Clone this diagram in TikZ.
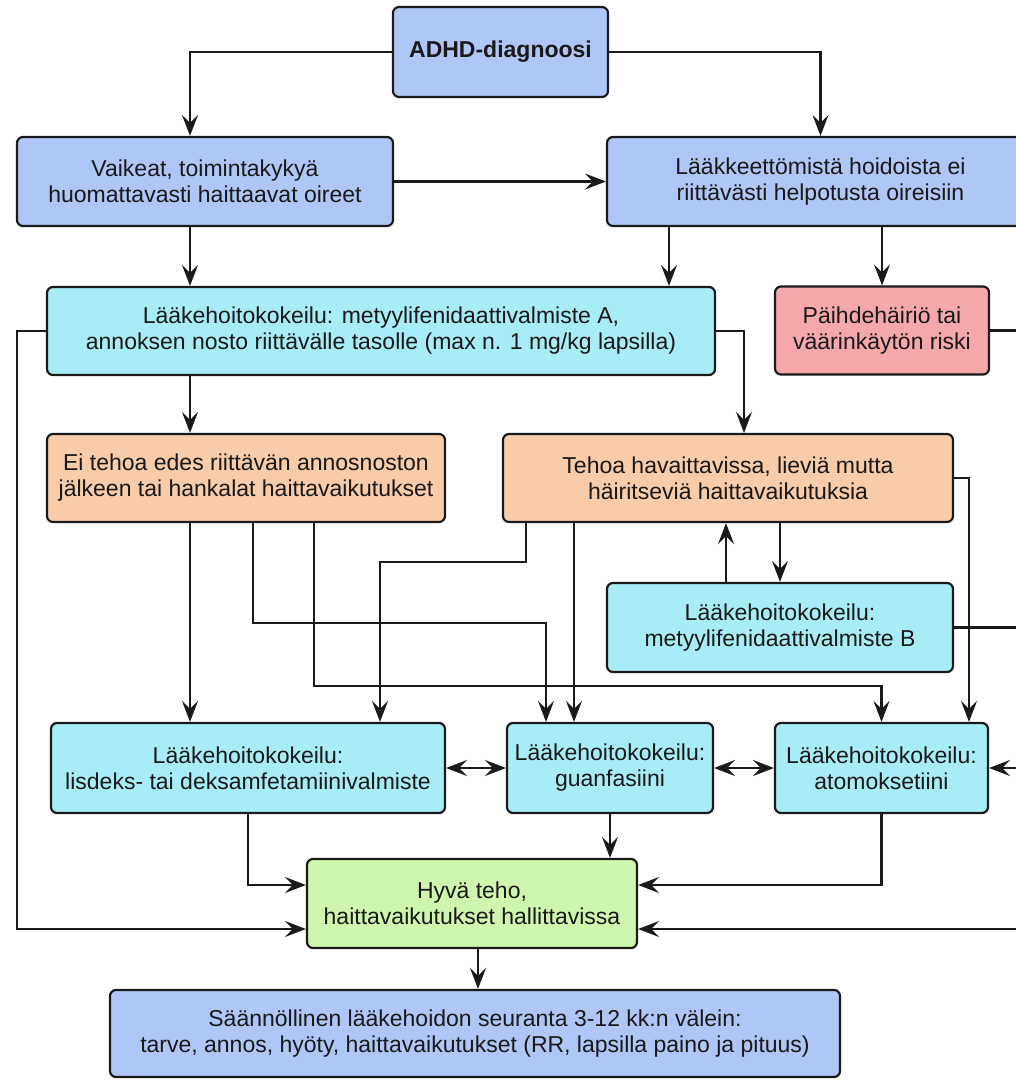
\documentclass[tikz,border=0pt]{standalone}
\usepackage{fontspec}
\setmainfont{Liberation Sans}
\usetikzlibrary{arrows.meta}
\definecolor{cblue}{HTML}{AFC7F6}
\definecolor{ccyan}{HTML}{A8ECF8}
\definecolor{corange}{HTML}{F8CBA9}
\definecolor{cpink}{HTML}{F4A8AA}
\definecolor{cgreen}{HTML}{CFF6AE}
\definecolor{cline}{HTML}{1A1A1A}
\begin{document}
\begin{tikzpicture}[x=1pt,y=-1pt,
  box/.style={rectangle, rounded corners=6pt, draw=cline, line width=2.2pt,
    align=center, inner sep=0pt, text=black!90,
    font=\fontsize{23}{26}\selectfont},
  tipA/.tip={Stealth[length=21pt,width=16pt,inset=8pt]},
  arr/.style={line width=2.2pt, draw=cline, -tipA},
  darr/.style={line width=2.2pt, draw=cline, tipA-tipA},
  ln/.style={line width=2.2pt, draw=cline}]

\useasboundingbox (0,0) rectangle (1016,1081);
\fill[white] (0,0) rectangle (1016,1081);
\clip (0,0) rectangle (1016,1081);

% boxes
\node[box, fill=cblue, minimum width=215pt, minimum height=90pt, font=\fontsize{23}{26}\selectfont\bfseries]
  (adhd) at (500.5,52) {ADHD-diagnoosi};
\node[box, fill=cblue, minimum width=376pt, minimum height=89pt]
  (vaik) at (205,181.5) {Vaikeat, toimintakykyä\\huomattavasti haittaavat oireet};
\node[box, fill=cblue, minimum width=427pt, minimum height=89pt]
  (laakk) at (820.5,181.5) {Lääkkeettömistä hoidoista ei\\riittävästi helpotusta oireisiin};
\node[box, fill=ccyan, minimum width=668pt, minimum height=88pt]
  (lkA) at (381,331) {Lääkehoitokokeilu: metyylifenidaattivalmiste A,\\annoksen nosto riittävälle tasolle (max n. 1 mg/kg lapsilla)};
\node[box, fill=cpink, minimum width=214pt, minimum height=88pt]
  (paih) at (882,330.5) {Päihdehäiriö tai\\väärinkäytön riski};
\node[box, fill=corange, minimum width=398pt, minimum height=88pt]
  (ei) at (246,478) {Ei tehoa edes riittävän annosnoston\\jälkeen tai hankalat haittavaikutukset};
\node[box, fill=corange, minimum width=450pt, minimum height=88pt]
  (teho) at (728,478) {Tehoa havaittavissa, lieviä mutta\\häiritseviä haittavaikutuksia};
\node[box, fill=ccyan, minimum width=346pt, minimum height=89pt]
  (metB) at (780,627.5) {Lääkehoitokokeilu:\\metyylifenidaattivalmiste B};
\node[box, fill=ccyan, minimum width=394pt, minimum height=90pt]
  (lis) at (248,768) {Lääkehoitokokeilu:\\lisdeks- tai deksamfetamiinivalmiste};
\node[box, fill=ccyan, minimum width=206pt, minimum height=90pt]
  (guan) at (610,768) {Lääkehoitokokeilu:\\guanfasiini};
\node[box, fill=ccyan, minimum width=213pt, minimum height=90pt]
  (atom) at (881.5,768) {Lääkehoitokokeilu:\\atomoksetiini};
\node[box, fill=cgreen, minimum width=330pt, minimum height=89pt]
  (hyva) at (472,903.5) {Hyvä teho,\\haittavaikutukset hallittavissa};
\node[box, fill=cblue, minimum width=730pt, minimum height=87pt]
  (saan) at (475,1033.5) {Säännöllinen lääkehoidon seuranta 3-12 kk:n välein:\\tarve, annos, hyöty, haittavaikutukset (RR, lapsilla paino ja pituus)};

% routing helpers
\coordinate (redge) at (1016,0);
\coordinate (xV) at (190,0);
\coordinate (xL) at (669,0);
\coordinate (xW) at (17,0);
\coordinate (yH2) at (0,929);
\coordinate (yb) at (0,885);
\coordinate (xT) at (744,0);
\coordinate (b1) at (253,623);
\coordinate (b1e) at (546,623);
\coordinate (b2) at (314,686);
\coordinate (b2e) at (881.5,686);
\coordinate (b3) at (526,562);
\coordinate (b3e) at (380,562);
\coordinate (t4) at (574,0);
\coordinate (b5) at (969,0);
\coordinate (xd) at (780,0);
\coordinate (xu) at (726,0);
\coordinate (xs) at (478,0);

% connectors
\draw[arr] (adhd.west) -| (vaik.north -| xV);
\draw[arr] (adhd.east) -| (laakk.north);
\draw[arr] (vaik.east) -- (laakk.west);
\draw[arr] (vaik.south -| xV) -- (lkA.north -| xV);
\draw[arr] (laakk.south -| xL) -- (lkA.north -| xL);
\draw[arr] (laakk.south -| paih.north) -- (paih.north);
\draw[ln] (paih.east) -- (paih.east -| redge);
\draw[arr] (lkA.west) -| (xW |- yH2) -- (hyva.west |- yH2);
\draw[arr] (lkA.east) -| (teho.north -| xT);
\draw[arr] (lkA.south -| xV) -- (ei.north -| xV);
\draw[arr] (ei.south -| xV) -- (lis.north -| xV);
\draw[arr] (ei.south -| b1) -- (b1) -- (b1e) -- (guan.north -| b1e);
\draw[arr] (ei.south -| b2) -- (b2) -- (b2e) -- (atom.north -| b2e);
\draw[arr] (teho.south -| b3) -- (b3) -- (b3e) -- (lis.north -| b3e);
\draw[arr] (teho.south -| t4) -- (guan.north -| t4);
\draw[arr] (teho.east) -| (atom.north -| b5);
\draw[arr] (teho.south -| xd) -- (metB.north -| xd);
\draw[arr] (metB.north -| xu) -- (teho.south -| xu);
\draw[ln] (metB.east) -- (metB.east -| redge);
\draw[darr] (lis.east) -- (guan.west);
\draw[darr] (guan.east) -- (atom.west);
\draw[arr] (atom.east -| redge) -- (atom.east);
\draw[arr] (lis.south) |- (hyva.west |- yb);
\draw[arr] (guan.south) -- (hyva.north -| guan.south);
\draw[arr] (atom.south) |- (hyva.east |- yb);
\draw[arr] (redge |- yH2) -- (hyva.east |- yH2);
\draw[arr] (hyva.south -| xs) -- (saan.north -| xs);
\end{tikzpicture}
\end{document}
